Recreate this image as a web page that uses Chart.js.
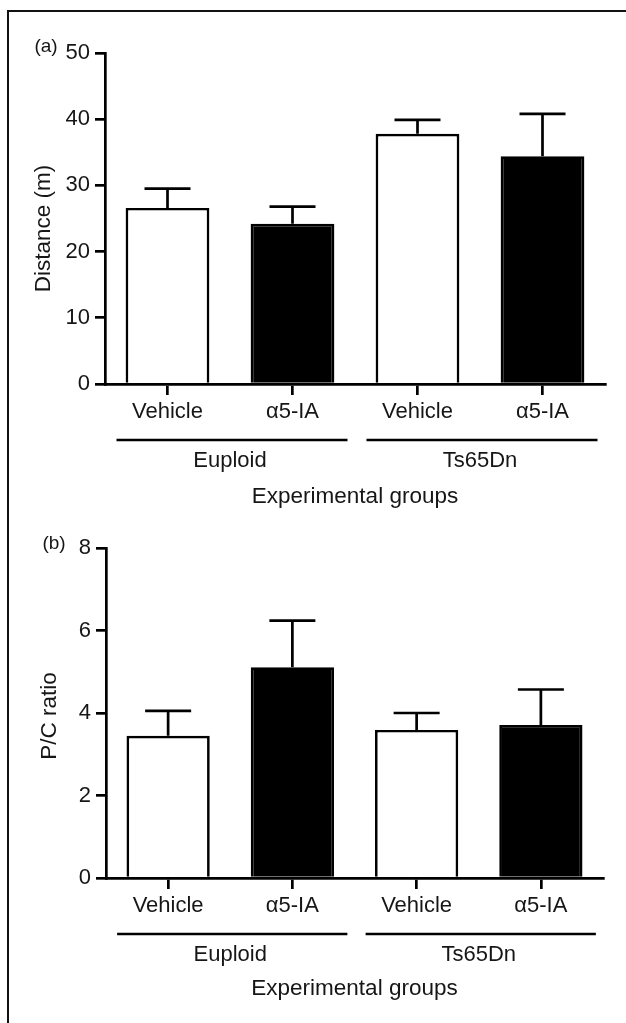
<!DOCTYPE html>
<html>
<head>
<meta charset="utf-8">
<script src="https://cdn.jsdelivr.net/npm/chart.js@4.4.1/dist/chart.umd.min.js"></script>
<style>
  body { margin: 0; background: #fff; width: 626px; height: 1023px; overflow: hidden; position: relative; }
  #frame { position: absolute; left: 7px; top: 10px; width: 700px; height: 1100px; border-left: 2px solid #111; border-top: 2px solid #111; }
  .panel { position: absolute; left: 0; width: 626px; }
</style>
</head>
<body>
<div id="frame"></div>
<div class="panel" style="top:0;height:515px"><canvas id="chartA"></canvas></div>
<div class="panel" style="top:515px;height:508px"><canvas id="chartB"></canvas></div>
<script>
// data
const categories = ["Vehicle", "α5-IA", "Vehicle", "α5-IA"];
const groups = ["Euploid", "Ts65Dn"];
const barColors = ["#ffffff", "#000000", "#ffffff", "#000000"];

const distanceMeans = [26.6, 24.2, 37.8, 34.4];
const distanceErr = [2.9, 2.6, 2.1, 6.4];
const distanceTicks = [0, 10, 20, 30, 40, 50];

const ratioMeans = [3.45, 5.11, 3.59, 3.71];
const ratioErr = [0.6, 1.13, 0.41, 0.86];
const ratioTicks = [0, 2, 4, 6, 8];

const FONT = "'Liberation Sans', Arial, Helvetica, sans-serif";
const INK = "#161616";
const LW = 2.7;

// error bars, group lines and labels
const extrasPlugin = {
  id: "extras",
  afterDatasetsDraw(chart, args, opts) {
    const ctx = chart.ctx;
    const x = chart.scales.x, y = chart.scales.y;
    const meta = chart.getDatasetMeta(0);
    const area = chart.chartArea;
    ctx.save();
    ctx.strokeStyle = "#000";
    ctx.lineWidth = LW;
    meta.data.forEach((bar, i) => {
      const m = opts.means[i], e = opts.errs[i];
      const yTop = y.getPixelForValue(m + e);
      const yBar = y.getPixelForValue(m);
      ctx.beginPath();
      ctx.moveTo(bar.x, yBar);
      ctx.lineTo(bar.x, yTop);
      ctx.moveTo(bar.x - 23, yTop);
      ctx.lineTo(bar.x + 23, yTop);
      ctx.stroke();
    });

    // group lines + labels
    ctx.fillStyle = INK;
    ctx.textAlign = "center";
    ctx.textBaseline = "middle";
    ctx.font = "22px " + FONT;
    groups.forEach((g, gi) => {
      const x0 = x.getPixelForValue(gi * 2);
      const x1 = x.getPixelForValue(gi * 2 + 1);
      ctx.beginPath();
      ctx.moveTo(x0 - 51, area.bottom + 56);
      ctx.lineTo(x1 + 55, area.bottom + 56);
      ctx.stroke();
      ctx.fillText(g, (x0 + x1) / 2, area.bottom + 77);
    });

    // axis titles
    ctx.font = "22.5px " + FONT;
    ctx.fillText("Experimental groups", (area.left + area.right) / 2, area.bottom + opts.xTitleOff);
    ctx.save();
    ctx.translate(opts.yTitleX, (area.top + area.bottom) / 2 + opts.yTitleShift);
    ctx.rotate(-Math.PI / 2);
    ctx.fillText(opts.yTitle, 0, 0);
    ctx.restore();

    // panel letter
    ctx.font = "19px " + FONT;
    ctx.fillText(opts.letter, opts.letterX, area.top + opts.letterDy);
    ctx.restore();
  }
};

function makeChart(id, means, errs, ticks, geom, extras) {
  const ctx = document.getElementById(id).getContext("2d");
  return new Chart(ctx, {
    type: "bar",
    data: {
      labels: categories,
      datasets: [{
        data: means,
        backgroundColor: barColors,
        borderColor: "#000",
        borderWidth: LW,
        barPercentage: 0.67,
        categoryPercentage: 1.0,
      }],
    },
    options: {
      responsive: true,
      maintainAspectRatio: false,
      animation: false,
      layout: { padding: { top: geom.top, right: geom.right, left: 0, bottom: 0 } },
      plugins: {
        legend: { display: false },
        tooltip: { enabled: false },
        extras: Object.assign({ means: means, errs: errs }, extras),
      },
      scales: {
        x: {
          offset: true,
          grid: { offset: false, drawOnChartArea: false, color: "#000", lineWidth: LW, tickLength: 11 },
          border: { color: "#000", width: LW },
          ticks: { color: INK, font: { family: FONT, size: 22 }, padding: 4, maxRotation: 0 },
          afterFit: (s) => { s.height = geom.xHeight; },
        },
        y: {
          min: ticks[0],
          max: ticks[ticks.length - 1],
          afterBuildTicks: (s) => { s.ticks = ticks.map((v) => ({ value: v })); },
          grid: { drawOnChartArea: false, color: "#000", lineWidth: LW, tickLength: 10 },
          border: { color: "#000", width: LW },
          ticks: { color: INK, font: { family: FONT, size: 22 }, padding: 5 },
          afterFit: (s) => { s.width = geom.axisLeft; },
        },
      },
    },
    plugins: [extrasPlugin],
  });
}

makeChart("chartA", distanceMeans, distanceErr, distanceTicks,
  { top: 53, right: 21, axisLeft: 105, xHeight: 131 },
  { yTitle: "Distance (m)", yTitleX: 44, yTitleShift: 10, xTitleOff: 113, letter: "(a)", letterX: 46, letterDy: -6 });

makeChart("chartB", ratioMeans, ratioErr, ratioTicks,
  { top: 33, right: 23, axisLeft: 106, xHeight: 145 },
  { yTitle: "P/C ratio", yTitleX: 50, yTitleShift: 3, xTitleOff: 111, letter: "(b)", letterX: 54, letterDy: -4 });
</script>
</body>
</html>
